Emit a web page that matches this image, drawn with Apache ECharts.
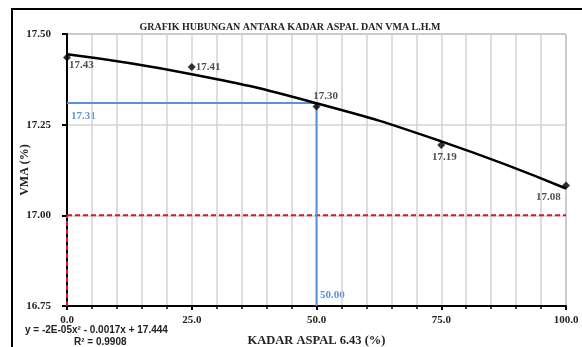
<!DOCTYPE html>
<html><head><meta charset="utf-8">
<script src="https://cdn.jsdelivr.net/npm/echarts@6/dist/echarts.min.js"></script>
<style>html,body{margin:0;padding:0;background:#fff}#c{width:582px;height:347px}</style>
</head><body><div id="c"></div>
<script>
const kadar = [0, 25, 50, 75, 100];
const vma = [17.435, 17.409, 17.30, 17.194, 17.082];
const vmaLabels = ['17.43', '17.41', '17.30', '17.19', '17.08'];
const trendY = [17.444, 17.389, 17.309, 17.204, 17.074];
const vmaMin = 17.00;
const optX = 50.00;
const optY = 17.31;
const titleText = 'GRAFIK HUBUNGAN ANTARA KADAR ASPAL DAN VMA L.H.M';
const xName = 'KADAR ASPAL 6.43 (%)';
const yName = 'VMA (%)';
const eqText = 'y = -2E-05x² - 0.0017x + 17.444';
const r2Text = 'R² = 0.9908';

const serif = 'Liberation Serif';
const txt = '#222';
const blue = '#5b93d8';
const labelCfg = [
  { position: [6, 6] },
  { position: 'right', distance: 0 },
  { position: 'top', distance: 3, offset: [9, 2] },
  { position: 'bottom', distance: 3, offset: [3, 0] },
  { position: [-26, 10] }
];

const chart = echarts.init(document.getElementById('c'));
const pts = kadar.map((x, i) => ({
  value: [x, vma[i]],
  label: Object.assign({
    show: true,
    formatter: vmaLabels[i],
    fontFamily: serif, fontWeight: 'bold', fontSize: 11, color: txt
  }, labelCfg[i])
}));

chart.setOption({
  animation: false,
  title: {
    text: titleText, left: 285, top: 17, textAlign: 'center',
    textStyle: { fontFamily: serif, fontWeight: 'bold', fontSize: 10, color: txt }
  },
  grid: { left: 67, right: 16, top: 34, bottom: 41, show: true, borderColor: '#666', borderWidth: 1,
    containLabel: false, outerBoundsMode: 'none' },
  xAxis: {
    type: 'value', min: 0, max: 100, interval: 25,
    name: xName, nameLocation: 'middle', nameGap: 28, nameMoveOverlap: false,
    nameTextStyle: { fontFamily: serif, fontWeight: 'bold', fontSize: 12.5, color: txt },
    axisLine: { show: true, lineStyle: { color: '#000', width: 2 } },
    axisTick: { show: true, length: 4, lineStyle: { color: '#000', width: 2 } },
    minorTick: { show: true, splitNumber: 5, length: 3, lineStyle: { color: '#000', width: 1.5 } },
    axisLabel: { formatter: v => v.toFixed(1), fontFamily: serif, fontWeight: 'bold', fontSize: 11, color: txt, margin: 9 },
    splitLine: { show: true, lineStyle: { color: '#d4d4d4', width: 1.5 } },
    minorSplitLine: { show: true, lineStyle: { color: '#d4d4d4', width: 1.5 } }
  },
  yAxis: {
    type: 'value', min: 16.75, max: 17.5, interval: 0.25,
    name: yName, nameLocation: 'middle', nameGap: 36, nameRotate: 90, nameMoveOverlap: false,
    nameTextStyle: { fontFamily: serif, fontWeight: 'bold', fontSize: 12, color: txt },
    axisLine: { show: true, lineStyle: { color: '#000', width: 2 } },
    axisTick: { show: true, length: 5, lineStyle: { color: '#000', width: 2 } },
    axisLabel: { formatter: v => v.toFixed(2), fontFamily: serif, fontWeight: 'bold', fontSize: 11, color: txt, margin: 16 },
    splitLine: { show: true, lineStyle: { color: '#d4d4d4', width: 1.5 } }
  },
  series: [
    { type: 'line', data: [[0, vmaMin], [100, vmaMin]], symbol: 'none', silent: true,
      lineStyle: { color: '#e8141c', width: 2, type: [5, 3] }, z: 3 },
    { type: 'line', data: [[0, 16.75], [0, vmaMin]], symbol: 'none', silent: true,
      lineStyle: { color: '#e8141c', width: 2, type: [5, 3] }, z: 3 },
    { type: 'line', data: [[0, optY], [optX, optY], [optX, 16.75]], symbol: 'none', silent: true,
      lineStyle: { color: blue, width: 2 }, z: 3 },
    { type: 'line', data: kadar.map((x, i) => [x, trendY[i]]), smooth: true, symbol: 'none',
      lineStyle: { color: '#000', width: 2.5 }, z: 4 },
    { type: 'scatter', data: pts, symbol: 'diamond', symbolSize: 8,
      itemStyle: { color: '#000' }, z: 5 }
  ],
  graphic: [
    { type: 'rect', shape: { x: 12, y: 9, width: 600, height: 400 }, style: { fill: 'none', stroke: '#000', lineWidth: 2 }, z: 0 },
    { type: 'text', left: 71, top: 111, style: { text: optY.toFixed(2), fill: blue, font: 'bold 11px "Liberation Serif"' } },
    { type: 'text', left: 320, top: 290, style: { text: optX.toFixed(2), fill: blue, font: 'bold 11px "Liberation Serif"' } },
    { type: 'text', left: 25, top: 325, style: { text: eqText, fill: txt, font: 'bold 10px "Liberation Sans"' } },
    { type: 'text', left: 74, top: 337, style: { text: r2Text, fill: txt, font: 'bold 10px "Liberation Sans"' } }
  ]
});
</script></body></html>
